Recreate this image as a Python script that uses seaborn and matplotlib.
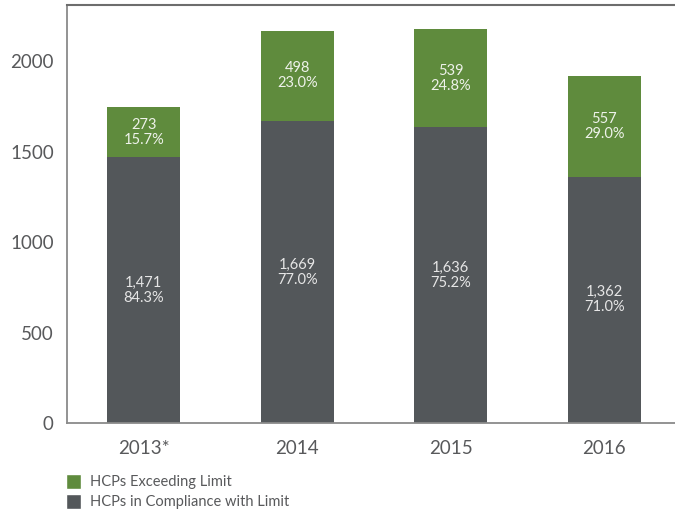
import pandas as pd
import matplotlib.pyplot as plt
import seaborn as sns
from matplotlib.patches import Patch

years = ["2013*", "2014", "2015", "2016"]
compliance = [1471, 1669, 1636, 1362]
exceeding = [273, 498, 539, 557]
compliance_pct = ["84.3%", "77.0%", "75.2%", "71.0%"]
exceeding_pct = ["15.7%", "23.0%", "24.8%", "29.0%"]

GREEN = "#5f8b3d"
GRAY = "#53575a"
TEXT = "#58595b"

df = pd.DataFrame({
    "year": years,
    "compliance": compliance,
    "exceeding": exceeding,
})
df["total"] = df["compliance"] + df["exceeding"]

sns.set_style("white")
plt.rcParams["font.family"] = ["Lato", "DejaVu Sans"]

fig = plt.figure(figsize=(6.75, 5.12), dpi=100)
ax = fig.add_axes([67 / 675, 1 - 423.3 / 512, 1 - 67 / 675, (423.3 - 5) / 512])

# totals in green, compliance drawn over them in gray -> stacked look
sns.barplot(data=df, x="year", y="total", color=GREEN, width=0.475,
            saturation=1, ax=ax, edgecolor="none")
sns.barplot(data=df, x="year", y="compliance", color=GRAY, width=0.475,
            saturation=1, ax=ax, edgecolor="none")

for i, row in df.iterrows():
    ax.text(i, row["compliance"] / 2, f"{row['compliance']:,}\n{compliance_pct[i]}",
            ha="center", va="center", color="#e6e6e6", fontsize=10.5, linespacing=1.1)
    ax.text(i, row["compliance"] + row["exceeding"] / 2,
            f"{row['exceeding']:,}\n{exceeding_pct[i]}",
            ha="center", va="center", color="#eef2ea", fontsize=10.5, linespacing=1.1)

ax.set_xlim(-0.5, 3.46)
ax.set_ylim(0, 2309)
ax.set_yticks([0, 500, 1000, 1500, 2000])
ax.set_xlabel("")
ax.set_ylabel("")

ax.set_xticks([0.5, 1.5, 2.5], minor=True)
ax.tick_params(axis="x", which="major", length=0, pad=12, labelsize=13.5, labelcolor=TEXT)
ax.tick_params(axis="x", which="minor", length=6, width=1.2, color="#777777", direction="out")
ax.tick_params(axis="y", length=8, width=1.2, color="#777777", labelsize=13.5,
               labelcolor=TEXT, pad=1.5, direction="out")

ax.spines["right"].set_visible(False)
for side in ["left", "bottom"]:
    ax.spines[side].set_color("#8a8a8a")
    ax.spines[side].set_linewidth(1.3)
ax.spines["top"].set_color("#6d6d6d")
ax.spines["top"].set_linewidth(1.5)

handles = [Patch(facecolor=GREEN, label="HCPs Exceeding Limit"),
           Patch(facecolor=GRAY, label="HCPs in Compliance with Limit")]
fig.legend(handles=handles, loc="upper left", bbox_to_anchor=(60 / 675, 1 - 468 / 512),
           frameon=False, fontsize=10.5, handlelength=1.03, handleheight=1.2,
           handletextpad=0.6, labelspacing=0.3, labelcolor=TEXT, borderaxespad=0)

fig.savefig("out.png", dpi=100)
